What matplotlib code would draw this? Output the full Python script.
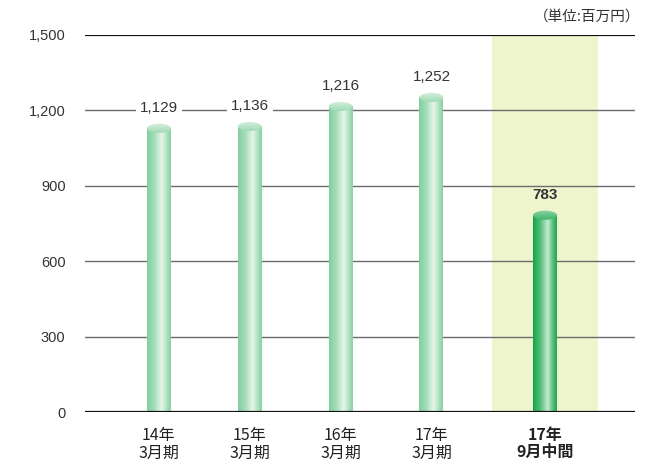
import numpy as np
import matplotlib
matplotlib.use("Agg")
import matplotlib.pyplot as plt
from matplotlib.patches import Ellipse, Rectangle
from matplotlib.colors import LinearSegmentedColormap

plt.rcParams['font.family'] = ['Noto Sans CJK JP', 'DejaVu Sans']

# Data
categories = ["14年\n3月期", "15年\n3月期", "16年\n3月期", "17年\n3月期", "17年\n9月中間"]
values = [1129, 1136, 1216, 1252, 783]
value_labels = ["1,129", "1,136", "1,216", "1,252", "783"]
yticks = [0, 300, 600, 900, 1200, 1500]
ytick_labels = ["0", "300", "600", "900", "1,200", "1,500"]
unit_label = "（単位:百万円）"

fig = plt.figure(figsize=(6.58, 4.61), dpi=100)
ax = fig.add_axes([85/658, 1-412/461, 550/658, 377/461])

# layout: the interim period sits a little apart from the annual ones
pos = np.array([0, 1, 2, 3, 4.25])
xmin, xmax = -0.813, 5.24
ax.set_xlim(xmin, xmax)
ax.set_ylim(0, 1500)

# highlight band behind the interim bar
ax.axvspan(pos[-1] - 0.58, pos[-1] + 0.58, ymin=0, ymax=1, color="#eef4cc", zorder=0, lw=0)

# gridlines
for t in yticks[1:-1]:
    ax.axhline(t, color="#6b6b6b", lw=1.0, zorder=1)
ax.axhline(1500, color="#111111", lw=1.6, zorder=1)
ax.axhline(0, color="#111111", lw=1.6, zorder=5)

for s in ax.spines.values():
    s.set_visible(False)

ax.set_yticks(yticks)
ax.set_yticklabels(ytick_labels, fontsize=10.5, color="#333333", family=["Liberation Sans", "DejaVu Sans"])
ax.tick_params(axis="y", length=0, pad=14)
ax.set_xticks(pos)
ax.set_xticklabels(categories, fontsize=11.5, color="#222222", linespacing=1.05)
ax.tick_params(axis="x", length=0, pad=11)
for lbl in ax.get_xticklabels()[-1:]:
    lbl.set_fontweight("bold")

light_cmap = LinearSegmentedColormap.from_list(
    "light", [(0, "#7fcf9e"), (0.3, "#a6ddb9"), (0.62, "#e6f5ea"), (0.85, "#a9dfbd"), (1, "#88d2a6")])
dark_cmap = LinearSegmentedColormap.from_list(
    "dark", [(0, "#12a548"), (0.3, "#52bd77"), (0.62, "#c6eacf"), (0.85, "#4fbb74"), (1, "#1aa94f")])

bw = 0.264
eh = 36  # ellipse height in data units
grad = np.linspace(0, 1, 128).reshape(1, -1)

for i, (x, v) in enumerate(zip(pos, values)):
    bold = i == len(values) - 1
    cmap = dark_cmap if bold else light_cmap
    im = ax.imshow(grad, cmap=cmap, extent=(x - bw/2, x + bw/2, 0, v),
                   aspect="auto", zorder=3, interpolation="bilinear")
    rect = Rectangle((x - bw/2, 0), bw, v, transform=ax.transData)
    im.set_clip_path(rect)
    # cylinder top
    top_grad = np.linspace(0, 1, 64).reshape(-1, 1)
    top_cmap = LinearSegmentedColormap.from_list(
        "top", ["#8fd3a6", "#3fb56a"] if bold else ["#d9f0e0", "#9fdab5"])
    im2 = ax.imshow(top_grad, cmap=top_cmap,
                    extent=(x - bw/2, x + bw/2, v - eh/2, v + eh/2),
                    aspect="auto", zorder=4, interpolation="bilinear", origin="upper")
    ell = Ellipse((x, v), bw, eh, transform=ax.transData)
    im2.set_clip_path(ell)

    ax.annotate(value_labels[i], (x, v), xytext=(0, 14.5), textcoords="offset points",
                ha="center", va="center", fontsize=11,
                fontweight="bold" if bold else "normal", color="#333333",
                family=["Liberation Sans", "DejaVu Sans"], zorder=6,
                bbox=None if bold else dict(boxstyle="square,pad=0.25", fc="white", ec="none"))

ax.set_xlim(xmin, xmax)
ax.set_ylim(0, 1500)

fig.text(640/658, 1-17/461, unit_label, ha="right", va="center", fontsize=10.5, color="#333333")

fig.savefig("out.png", dpi=100)
